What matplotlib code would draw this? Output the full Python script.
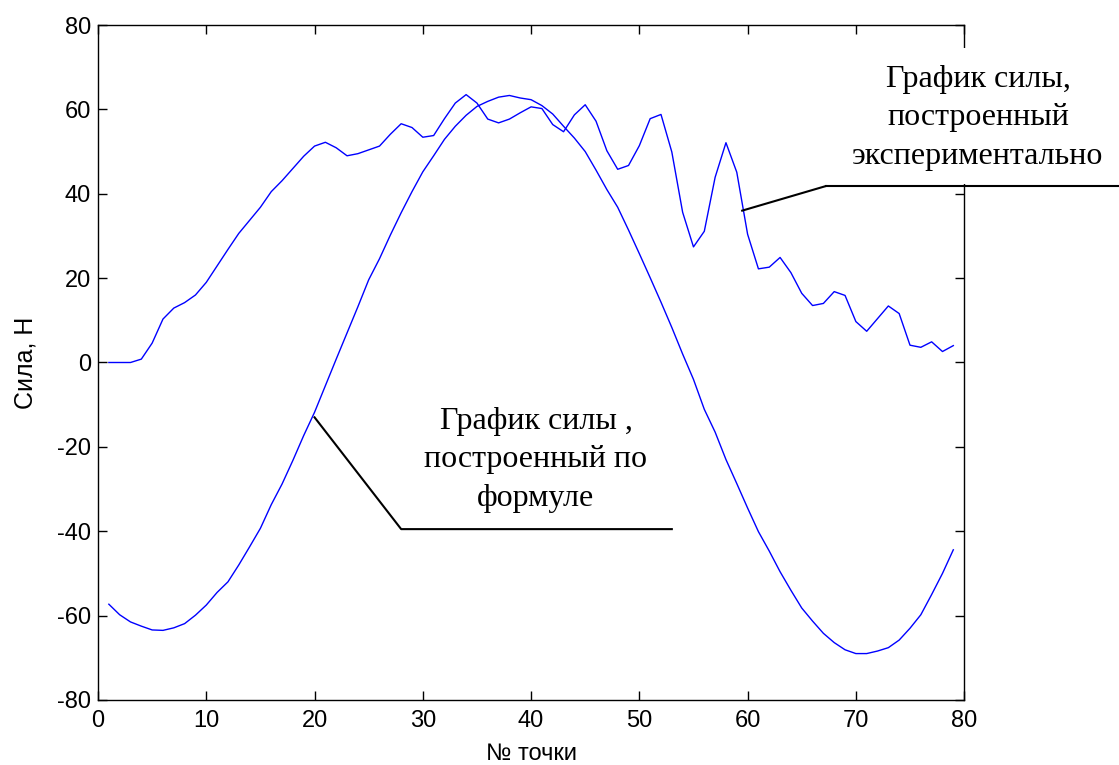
import numpy as np
import matplotlib.pyplot as plt
from matplotlib.patches import Rectangle
from matplotlib.lines import Line2D

# point numbers
points = np.arange(1, 80)

# force measured in the experiment, N
force_exp = [0.0, 0.0, 0.0, 0.8, 4.6, 10.3, 12.9, 14.2, 16.0, 19.0,
             22.9, 26.8, 30.6, 33.7, 36.8, 40.5, 43.1, 46.0, 48.9, 51.3,
             52.2, 50.9, 49.0, 49.5, 50.4, 51.3, 54.1, 56.6, 55.7, 53.4,
             53.8, 57.8, 61.5, 63.5, 61.5, 57.7, 56.8, 57.7, 59.2, 60.6,
             60.2, 56.4, 54.7, 58.7, 61.1, 57.2, 50.2, 45.8, 46.7, 51.4,
             57.8, 58.8, 49.9, 35.6, 27.4, 31.1, 43.9, 52.1, 45.1, 30.4,
             22.2, 22.6, 24.9, 21.3, 16.4, 13.5, 14.0, 16.8, 15.9, 9.7,
             7.4, 10.4, 13.4, 11.6, 4.1, 3.6, 4.9, 2.6, 4.0]

# force computed from the formula, N
force_calc = [-57.3, -59.8, -61.5, -62.5, -63.4, -63.5, -62.9, -61.9, -59.9,
              -57.5, -54.5, -52.0, -48.0, -43.7, -39.3, -33.7, -28.8, -23.2,
              -17.3, -11.8, -5.5, 0.8, 7.0, 13.2, 19.6, 24.6, 30.2, 35.5,
              40.5, 45.2, 49.0, 52.9, 56.0, 58.6, 60.7, 61.9, 62.9, 63.3,
              62.7, 62.3, 60.9, 58.9, 56.0, 53.2, 50.0, 45.6, 41.0, 36.8,
              31.4, 25.8, 20.1, 14.3, 8.3, 2.0, -4.0, -11.1, -16.5, -23.0,
              -28.7, -34.5, -40.1, -44.7, -49.6, -54.0, -58.2, -61.3, -64.2,
              -66.4, -68.1, -69.0, -69.0, -68.4, -67.6, -65.8, -63.0, -59.8,
              -55.0, -50.0, -44.4]

label_exp = 'График силы,\nпостроенный\nэкспериментально'
label_calc = 'График силы ,\nпостроенный по\nформуле'

plt.rcParams['font.family'] = ['Liberation Sans', 'DejaVu Sans']
plt.rcParams['axes.unicode_minus'] = False

fig = plt.figure(figsize=(11.19, 7.65), dpi=100)
W, H = fig.bbox.width, fig.bbox.height
ax = fig.add_axes([0.0876, 0.085, 0.774, 0.8823])

ax.plot(points, force_exp, color='#0000ff', lw=1.0)
ax.plot(points, force_calc, color='#0000ff', lw=1.0)

ax.set_xlim(0, 80)
ax.set_ylim(-80, 80)
ax.set_xticks(np.arange(0, 81, 10))
ax.set_yticks(np.arange(-80, 81, 20))
ax.tick_params(direction='in', length=6.5, width=1.0, labelsize=17,
               top=True, right=True, pad=5)
ax.tick_params(axis='x', pad=7)
for s in ax.spines.values():
    s.set_linewidth(1.0)

ax.set_xlabel('№ точки', fontsize=17, labelpad=8)
ax.set_ylabel('Сила, Н', fontsize=18, labelpad=14)

# leader for the formula curve
ax.plot([20, 28, 53], [-13, -39.5, -39.5], color='black', lw=1.5)
fig.text(536 / W, 1 - 460 / H, label_calc, ha='center', va='center',
         fontsize=23, family='Liberation Serif', linespacing=1.45)

# label box for the measured curve, partly outside the axes
fig.patches.append(Rectangle((850 / W, 1 - 184 / H), (W - 850) / W,
                             136 / H, transform=fig.transFigure,
                             facecolor='white', edgecolor='none', zorder=2))
ax.plot([59.5, 67.2], [36, 41.8], color='black', lw=1.5)
x0 = ax.transData.transform((67.2, 41.8))
fig.lines.append(Line2D([x0[0] / W, 1.0], [x0[1] / H, x0[1] / H],
                        transform=fig.transFigure, color='black', lw=1.5,
                        zorder=3))
fig.text(978 / W, 1 - 118 / H, label_exp, ha='center', va='center',
         fontsize=23, family='Liberation Serif', linespacing=1.45,
         zorder=4)

fig.savefig('out.png', dpi=100)
